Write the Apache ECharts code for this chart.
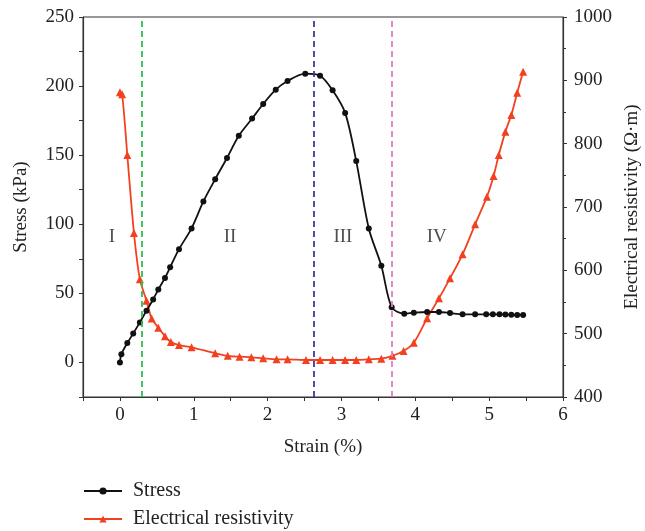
<!DOCTYPE html>
<html>
<head>
<meta charset="utf-8">
<script src="https://cdn.jsdelivr.net/npm/echarts@6/dist/echarts.min.js"></script>
<style>html,body{margin:0;padding:0;background:#fff;}#c{width:645px;height:531px;}</style>
</head>
<body>
<div id="c"></div>
<script>
// Stress (kPa) vs strain (%)
const stressStrain = [0, 0.02, 0.10, 0.18, 0.27, 0.36, 0.45, 0.52, 0.61, 0.68, 0.80, 0.97, 1.13, 1.29, 1.45, 1.61, 1.79, 1.94, 2.11, 2.27, 2.51, 2.71, 2.88, 3.05, 3.20, 3.37, 3.54, 3.68, 3.85, 3.98, 4.16, 4.32, 4.47, 4.64, 4.81, 4.96, 5.05, 5.14, 5.22, 5.30, 5.38, 5.46];
const stressValues = [0, 6, 14, 21, 29, 37.5, 45.6, 52.8, 61.2, 68.9, 82, 97, 116.5, 132.6, 148, 164, 176.5, 187, 197.4, 203.7, 209, 207.5, 197, 180.6, 145.7, 97, 70, 40, 35.3, 36, 36.5, 36.5, 35.8, 34.8, 34.8, 34.8, 34.8, 34.8, 34.7, 34.5, 34.4, 34.3];
// Electrical resistivity (Ω·m) vs strain (%)
const resStrain = [0, 0.03, 0.10, 0.19, 0.27, 0.36, 0.43, 0.52, 0.61, 0.69, 0.80, 0.97, 1.29, 1.46, 1.62, 1.78, 1.94, 2.12, 2.27, 2.52, 2.71, 2.88, 3.05, 3.20, 3.37, 3.54, 3.69, 3.84, 3.98, 4.16, 4.32, 4.47, 4.64, 4.81, 4.97, 5.06, 5.13, 5.22, 5.30, 5.38, 5.46];
const resValues = [881, 878, 782, 659, 586, 552, 524, 509.5, 496, 487, 482, 478.5, 469, 465, 463.6, 462.7, 461, 459.5, 459.5, 458.4, 458.4, 458.4, 458.4, 458.4, 459.5, 460.5, 465, 472.6, 485.8, 524.3, 555.8, 587.4, 625.3, 672.7, 716.3, 749, 782, 819, 845.3, 880.5, 913.6];
// Stage boundaries (strain %) and stage labels
const boundaries = [0.30, 2.62, 3.68];
const boundaryColors = ['#2fbf4f', '#3b3ba0', '#e27ac8'];
const stageNames = ['I', 'II', 'III', 'IV'];
const stageX = [-0.11, 1.49, 3.02, 4.29];
const stageY = [91, 91, 91, 91];
const leftTicks = { min: -25, max: 250, step: 50 };
const rightTicks = { min: 400, max: 1000, step: 100 };
const xTicks = { min: -0.5, max: 6, step: 1 };

const FONT = '"Liberation Serif", "DejaVu Serif", serif';
const FS = 19;
const chart = echarts.init(document.getElementById('c'));
const zip = (a, b) => a.map((v, i) => [v, b[i]]);

chart.setOption({
  animation: false,
  textStyle: { fontFamily: FONT },
  grid: { left: 83, right: 82, top: 17, bottom: 134, show: true, borderColor: '#333', borderWidth: 1, outerBoundsMode: 'none', containLabel: false },
  legend: {
    data: ['Stress', 'Electrical resistivity'],
    orient: 'vertical', left: 78, top: 476, height: 80, itemWidth: 38, itemHeight: 9, itemGap: 8,
    textStyle: { fontFamily: FONT, fontSize: FS + 1, color: '#222', padding: [0, 0, 0, 6] }
  },
  xAxis: {
    type: 'value', min: xTicks.min, max: xTicks.max, interval: xTicks.step / 2,
    name: 'Strain (%)', nameLocation: 'middle', nameGap: 41,
    nameTextStyle: { fontFamily: FONT, fontSize: FS, color: '#222' },
    axisLine: { onZero: false, lineStyle: { color: '#333', width: 1.2 } },
    axisTick: { inside: false, length: 4, lineStyle: { color: '#333' } },
    axisLabel: { fontFamily: FONT, fontSize: FS, color: '#222', margin: 9,
      formatter: v => (Math.abs(v - Math.round(v)) < 1e-9 ? String(Math.round(v)) : '') },
    splitLine: { show: false }
  },
  yAxis: [{
    type: 'value', min: leftTicks.min, max: leftTicks.max, interval: leftTicks.step / 2,
    name: 'Stress (kPa)', nameLocation: 'middle', nameGap: 52, nameRotate: 90,
    nameTextStyle: { fontFamily: FONT, fontSize: FS, color: '#222' },
    axisLine: { show: true, onZero: false, lineStyle: { color: '#333', width: 1.2 } },
    axisTick: { length: 4, lineStyle: { color: '#333' } },
    axisLabel: { fontFamily: FONT, fontSize: FS, color: '#222', margin: 9,
      formatter: v => (v % leftTicks.step === 0 ? String(v) : '') },
    splitLine: { show: false }
  }, {
    type: 'value', min: rightTicks.min, max: rightTicks.max, interval: rightTicks.step, position: 'right',
    name: 'Electrical resistivity (Ω·m)', nameLocation: 'middle', nameGap: 58, nameRotate: 90,
    nameTextStyle: { fontFamily: FONT, fontSize: FS, color: '#222' },
    axisLine: { show: true, onZero: false, lineStyle: { color: '#333', width: 1.2 } },
    axisTick: { length: 4, lineStyle: { color: '#333' } },
    minorTick: { show: true, splitNumber: 2, length: 3, lineStyle: { color: '#333' } },
    axisLabel: { fontFamily: FONT, fontSize: FS, color: '#222', margin: 11, formatter: v => String(v) },
    splitLine: { show: false }
  }],
  series: [{
    name: 'Stress', type: 'line', yAxisIndex: 0, data: zip(stressStrain, stressValues),
    smooth: 0.3, symbol: 'circle', symbolSize: 6,
    lineStyle: { color: '#111', width: 1.8 }, itemStyle: { color: '#111' },
    markLine: {
      silent: true, symbol: 'none', label: { show: false },
      data: boundaries.map((b, i) => ({ xAxis: b, lineStyle: { color: boundaryColors[i], type: [6, 4], width: 1.8 } }))
    },
    z: 3
  }, {
    name: 'Electrical resistivity', type: 'line', yAxisIndex: 1, data: zip(resStrain, resValues),
    smooth: 0.3, symbol: 'triangle', symbolSize: 8,
    lineStyle: { color: '#f2411f', width: 1.8 }, itemStyle: { color: '#f2411f' },
    z: 2
  }, {
    name: 'stages', type: 'scatter', yAxisIndex: 0, symbolSize: 0, silent: true,
    data: stageNames.map((n, i) => ({ name: n, value: [stageX[i], stageY[i]] })),
    label: { show: true, position: 'inside', formatter: p => p.name, fontFamily: FONT, fontSize: 19, color: '#222' }
  }]
});
</script>
</body>
</html>
